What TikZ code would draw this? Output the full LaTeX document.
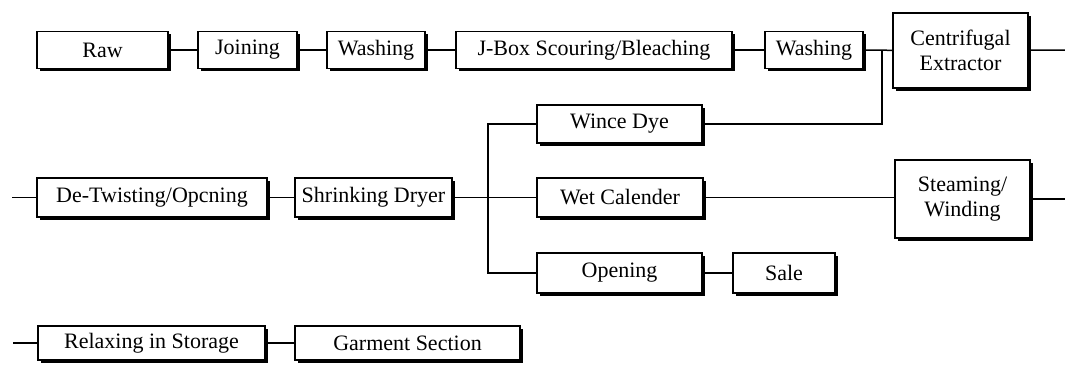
\documentclass[tikz,border=0pt]{standalone}
\usepackage{fontspec}
\setmainfont{Liberation Serif}
\usetikzlibrary{shadows}
\begin{document}
\begin{tikzpicture}[x=1pt,y=-1pt,
  proc/.style={draw=black, line width=1.4pt, fill=white, inner sep=0pt,
    minimum height=37pt, align=center,
    font=\fontsize{22}{24}\selectfont,
    drop shadow={shadow xshift=2.5pt, shadow yshift=-2.5pt, fill=black, opacity=1}},
  link/.style={draw=black, line width=1.5pt}]
\useasboundingbox (0,0) rectangle (1065,364);
% row 1
\node[proc, minimum width=131pt] (raw) at (102.5,50) {Raw};
\node[proc, minimum width=99pt] (join) at (247.5,50) {Joining};
\node[proc, minimum width=98pt] (wash1) at (376,50) {Washing};
\node[proc, minimum width=276pt] (jbox) at (594,50) {J-Box Scouring/Bleaching};
\node[proc, minimum width=98pt] (wash2) at (814,50) {Washing};
\node[proc, minimum width=135pt, minimum height=75pt, font=\fontsize{22}{25}\selectfont] (cent) at (960.5,50.5) {Centrifugal\\Extractor};
\coordinate (e1) at (1065,50);
\coordinate (j1) at (882,50);
% row 2
\coordinate (s2) at (12,197.5);
\node[proc, minimum width=230pt, minimum height=39pt] (detw) at (152,197.5) {De-Twisting/Opcning};
\node[proc, minimum width=157pt, minimum height=39pt] (shrink) at (373.5,197.5) {Shrinking Dryer};
\coordinate (j2) at (488,197.5);
\coordinate (jt) at (488,124);
\coordinate (jb) at (488,273);
\node[proc, minimum width=165pt, minimum height=38pt] (wince) at (619.5,124) {Wince Dye};
\node[proc, minimum width=166pt, minimum height=39pt] (wet) at (620,197.5) {Wet Calender};
\node[proc, minimum width=135pt, minimum height=78pt, font=\fontsize{22}{25}\selectfont] (steam) at (962.5,199) {Steaming/\\Winding};
\coordinate (e2) at (1065,199);
\node[proc, minimum width=165pt, minimum height=40pt] (open) at (619.5,273) {Opening};
\node[proc, minimum width=102pt, minimum height=40pt] (sale) at (784,273) {Sale};
% row 3
\coordinate (s3) at (13,343);
\node[proc, minimum width=227pt, minimum height=34pt] (relax) at (151.5,343) {Relaxing in Storage};
\node[proc, minimum width=225pt, minimum height=34pt] (garm) at (407.5,343) {Garment Section};
% connectors
\path[link] (raw) -- (join);
\path[link] (join) -- (wash1);
\path[link] (wash1) -- (jbox);
\path[link] (jbox) -- (wash2);
\path[link] (wash2) -- (cent);
\path[link] (cent) -- (e1);
\path[link] (wince.east) -| (j1);
\path[link] (s2) -- (detw);
\path[link] (detw) -- (shrink);
\path[link] (shrink) -- (j2);
\path[link] (wince.west) -- (jt) -- (jb) -- (open.west);
\path[link] (j2) -- (wet);
\path[link] (wet) -- (steam.west |- wet);
\path[link] (steam.east |- e2) -- (e2);
\path[link] (open) -- (sale);
\path[link] (s3) -- (relax);
\path[link] (relax) -- (garm);
\end{tikzpicture}
\end{document}
